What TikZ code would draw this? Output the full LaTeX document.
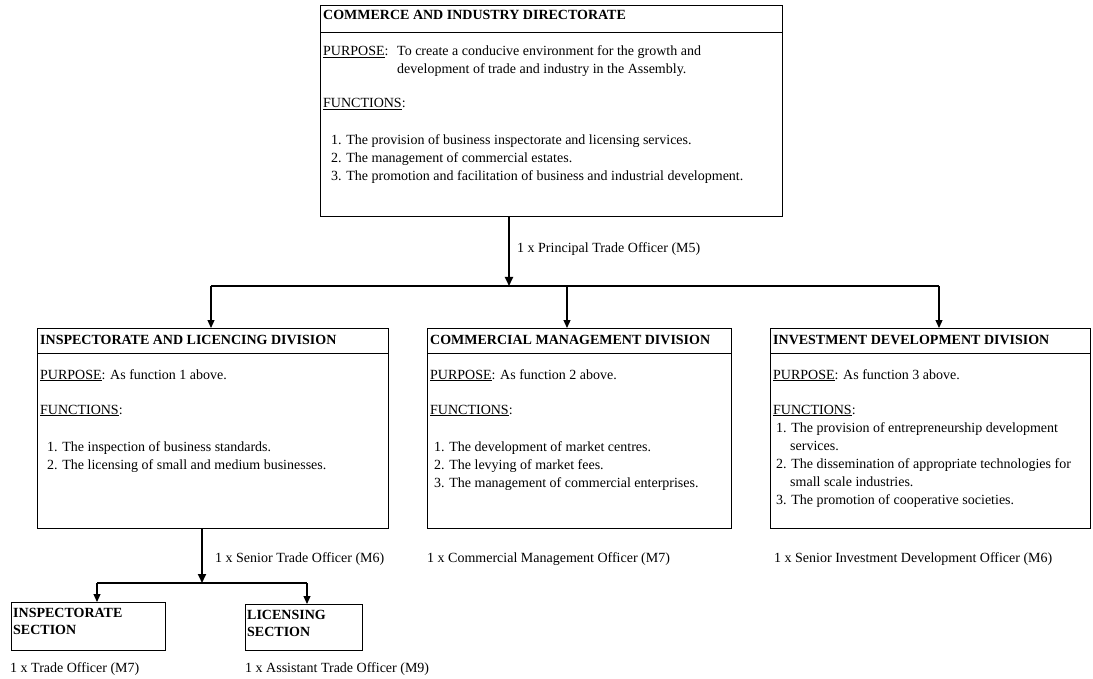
\documentclass[tikz,border=0pt]{standalone}
\usepackage{fontspec}
\setmainfont{Liberation Serif}
\usetikzlibrary{arrows.meta}
\newcommand\fs{\fontsize{14}{18}\selectfont}
\newcommand\ul[1]{\underline{#1}}
\begin{document}
\begin{tikzpicture}[x=1pt,y=-1pt,
  box/.style={draw, line width=1pt, anchor=north west, inner sep=0pt},
  txt/.style={anchor=base west, inner sep=0pt, font=\fs},
  hd/.style={txt, font=\fs\bfseries},
  link/.style={line width=1.2pt},
  arr/.style={link, -{Triangle[length=8pt,width=7pt]}},
  bigarr/.style={line width=2pt, -{Triangle[length=9pt,width=8pt]}}]
\useasboundingbox[fill=white] (0,0) rectangle (1093,679);

% ---- directorate ----
\node[box, minimum width=462pt, minimum height=211pt] (top) at (320,5) {};
\draw[line width=1pt] (top.west |- 0,33) -- (top.east |- 0,33);
\node[hd]  (topT) at (323,20) {COMMERCE AND INDUSTRY DIRECTORATE};
\node[txt] (topP) at (323,56) {\ul{PURPOSE}:};
\node[txt] (topP1) at (397,56) {To create a conducive environment for the growth and};
\node[txt] (topP2) at (397,74) {development of trade and industry in the Assembly.};
\node[txt] (topF) at (323,108) {\ul{FUNCTIONS}:};
\node[txt] (topF1) at (331,145) {1. The provision of business inspectorate and licensing services.};
\node[txt] (topF2) at (331,163) {2. The management of commercial estates.};
\node[txt] (topF3) at (331,181) {3. The promotion and facilitation of business and industrial development.};
\node[txt] (topO) at (517,253) {1 x Principal Trade Officer (M5)};

% ---- divisions ----
\node[box, minimum width=351pt, minimum height=200pt] (d1) at (37,328) {};
\draw[line width=1pt] (d1.west |- 0,353) -- (d1.east |- 0,353);
\node[hd]  (d1T) at (40,344) {INSPECTORATE AND LICENCING DIVISION};
\node[txt] (d1P) at (40,379) {\ul{PURPOSE}: As function 1 above.};
\node[txt] (d1F) at (40,414) {\ul{FUNCTIONS}:};
\node[txt] (d1F1) at (47,451) {1. The inspection of business standards.};
\node[txt] (d1F2) at (47,469) {2. The licensing of small and medium businesses.};

\node[box, minimum width=304pt, minimum height=200pt] (d2) at (427,328) {};
\draw[line width=1pt] (d2.west |- 0,353) -- (d2.east |- 0,353);
\node[hd]  (d2T) at (430,344) {COMMERCIAL MANAGEMENT DIVISION};
\node[txt] (d2P) at (430,379) {\ul{PURPOSE}: As function 2 above.};
\node[txt] (d2F) at (430,414) {\ul{FUNCTIONS}:};
\node[txt] (d2F1) at (434,451) {1. The development of market centres.};
\node[txt] (d2F2) at (434,469) {2. The levying of market fees.};
\node[txt] (d2F3) at (434,487) {3. The management of commercial enterprises.};

\node[box, minimum width=320pt, minimum height=200pt] (d3) at (770,328) {};
\draw[line width=1pt] (d3.west |- 0,353) -- (d3.east |- 0,353);
\node[hd]  (d3T) at (773,344) {INVESTMENT DEVELOPMENT DIVISION};
\node[txt] (d3P) at (773,379) {\ul{PURPOSE}: As function 3 above.};
\node[txt] (d3F) at (773,414) {\ul{FUNCTIONS}:};
\node[txt] (d3F1) at (776,432) {1. The provision of entrepreneurship development};
\node[txt] (d3F1b) at (790,450) {services.};
\node[txt] (d3F2) at (776,468) {2. The dissemination of appropriate technologies for};
\node[txt] (d3F2b) at (790,486) {small scale industries.};
\node[txt] (d3F3) at (776,504) {3. The promotion of cooperative societies.};

\node[txt] (d1O) at (215,562) {1 x Senior Trade Officer (M6)};
\node[txt] (d2O) at (427,562) {1 x Commercial Management Officer (M7)};
\node[txt] (d3O) at (774,562) {1 x Senior Investment Development Officer (M6)};

% ---- sections ----
\node[box, minimum width=154pt, minimum height=48pt] (s1) at (11,602) {};
\node[hd] (s1T) at (13,617) {INSPECTORATE};
\node[hd] (s1T2) at (13,634) {SECTION};
\node[box, minimum width=117pt, minimum height=46pt] (s2) at (245,604) {};
\node[hd] (s2T) at (247,619) {LICENSING};
\node[hd] (s2T2) at (247,636) {SECTION};
\node[txt] (s1O) at (10,672) {1 x Trade Officer (M7)};
\node[txt] (s2O) at (245,672) {1 x Assistant Trade Officer (M9)};

% ---- connectors ----
\coordinate (j0) at (509,286);
\coordinate (bL) at (211,286);
\coordinate (bM) at (567,286);
\coordinate (bR) at (939,286);
\draw[bigarr] (top.south -| j0) -- (j0);
\draw[link] (bL) -- (bR);
\draw[arr] (bL) -- (d1.north -| bL);
\draw[arr] (bM) -- (d2.north -| bM);
\draw[arr] (bR) -- (d3.north -| bR);

\coordinate (k0) at (202,583);
\coordinate (kL) at (97,583);
\coordinate (kR) at (307,583);
\draw[bigarr] (d1.south -| k0) -- (k0);
\draw[link] (kL) -- (kR);
\draw[arr] (kL) -- (s1.north -| kL);
\draw[arr] (kR) -- (s2.north -| kR);
\end{tikzpicture}
\end{document}
